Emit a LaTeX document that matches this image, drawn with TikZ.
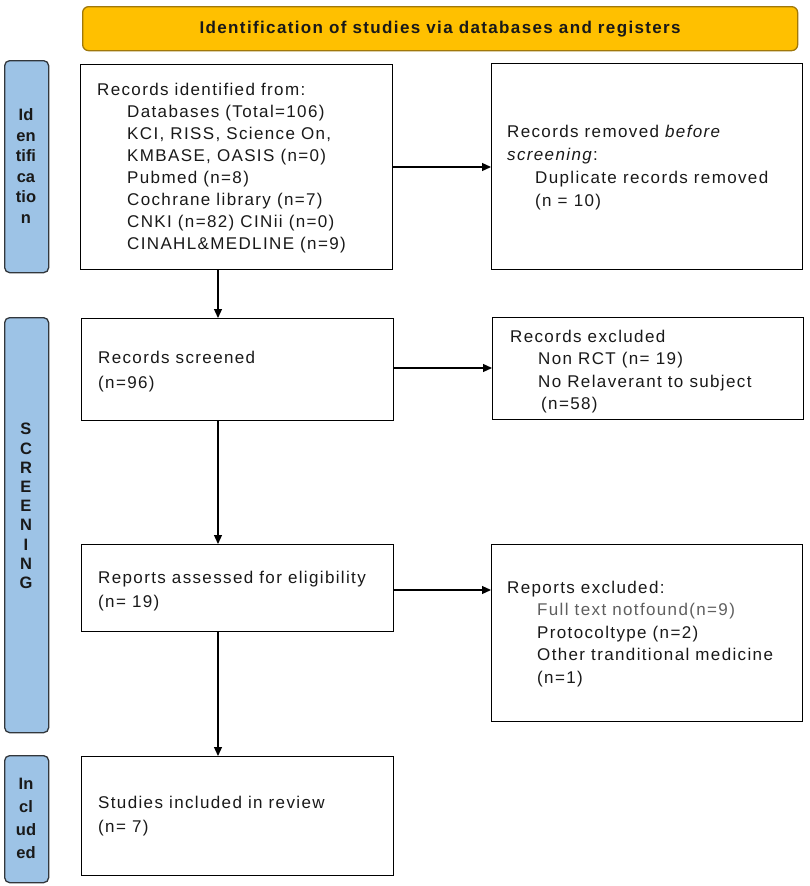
\documentclass[tikz,border=0pt]{standalone}
\usepackage{fontspec}
\setmainfont{Liberation Sans}[LetterSpace=8]
\newfontfamily\plainsans{Liberation Sans}
\newfontfamily\bannersans{Liberation Sans}[LetterSpace=8]
\usetikzlibrary{arrows.meta}
\definecolor{bannerfill}{RGB}{255,192,0}
\definecolor{bannerdraw}{RGB}{160,120,10}
\definecolor{sidefill}{RGB}{157,195,230}
\definecolor{sidedraw}{RGB}{50,55,60}
\definecolor{txt}{RGB}{25,25,25}
\definecolor{graytxt}{RGB}{95,95,95}
\tikzset{
  flowbox/.style={draw=black, line width=1.2pt, fill=white, inner sep=0pt, anchor=north west},
  sidebar/.style={draw=sidedraw, line width=1.3pt, fill=sidefill, rounded corners=5pt, inner sep=0pt, anchor=north west},
  sidelabel/.style={font=\plainsans\bfseries\fontsize{16.5}{20.5}\selectfont, align=center, inner sep=0pt, text=txt},
  boxtext/.style={font=\fontsize{17}{22}\selectfont, align=left, inner sep=0pt, anchor=north west, text=txt},
  arr/.style={line width=1.2pt, -{Triangle[length=9pt,width=8pt]}}
}
\newcommand{\ind}{\hspace*{30pt}}
\begin{document}
\begin{tikzpicture}[x=1pt,y=-1pt]
\useasboundingbox[fill=white] (0,0) rectangle (810,886);
% banner
\node[draw=bannerdraw, line width=1.3pt, fill=bannerfill, rounded corners=6pt, anchor=north west,
      minimum width=715pt, minimum height=44pt, inner sep=0pt, text=txt,
      font=\bannersans\bfseries\fontsize{17}{20}\selectfont] (banner) at (82,6)
      {Identification of studies via databases and registers};
% side bars
\node[sidebar, minimum width=44pt, minimum height=212pt] (idbar) at (4,60) {};
\node[sidelabel] (idlab) at (26,166) {Id\\en\\tifi\\ca\\tio\\n};
\node[sidebar, minimum width=44pt, minimum height=415pt] (scrbar) at (4,317) {};
\node[sidelabel, font=\plainsans\bfseries\fontsize{16.5}{19.2}\selectfont] (scrlab) at (26,506) {S\\C\\R\\E\\E\\N\\I\\N\\G};
\node[sidebar, minimum width=44pt, minimum height=127pt] (incbar) at (4,755) {};
\node[sidelabel, font=\plainsans\bfseries\fontsize{16.5}{23}\selectfont] (inclab) at (26,818) {In\\cl\\ud\\ed};
% boxes
\node[flowbox, minimum width=312pt, minimum height=205pt] (idbox) at (80,64) {};
\node[flowbox, minimum width=311pt, minimum height=206pt] (rembox) at (491,63) {};
\node[flowbox, minimum width=312pt, minimum height=102pt] (scrbox) at (81,318) {};
\node[flowbox, minimum width=311pt, minimum height=102pt] (exbox) at (492,317) {};
\node[flowbox, minimum width=312pt, minimum height=87pt] (repbox) at (81,544) {};
\node[flowbox, minimum width=311pt, minimum height=177pt] (repexbox) at (491,544) {};
\node[flowbox, minimum width=312pt, minimum height=119pt] (studbox) at (81,756) {};
% texts
\node[boxtext] (idtext) at (97,82.5) {Records identified from:\\
\ind Databases (Total=106)\\
\ind KCI, RISS, Science On,\\
\ind KMBASE, OASIS (n=0)\\
\ind Pubmed (n=8)\\
\ind Cochrane library (n=7)\\
\ind CNKI (n=82) CINii (n=0)\\
\ind CINAHL\&MEDLINE (n=9)};
\node[boxtext, font=\fontsize{17}{23}\selectfont] (remtext) at (507,124.5) {Records removed \textit{before}\\
\textit{screening}:\\
\hspace*{28pt}Duplicate records removed\\
\hspace*{28pt}(n = 10)};
\node[boxtext, font=\fontsize{17}{25}\selectfont] (scrtext) at (98,350.5) {Records screened\\(n=96)};
\node[boxtext, font=\fontsize{17}{22.6}\selectfont] (extext) at (510,329.5) {Records excluded\\
\hspace*{28pt}Non RCT (n= 19)\\
\hspace*{28pt}No Relaverant to subject\\
\hspace*{31pt}(n=58)};
\node[boxtext, font=\fontsize{17}{24}\selectfont] (reptext) at (98,570.5) {Reports assessed for eligibility\\(n= 19)};
\node[boxtext, font=\fontsize{17}{22.5}\selectfont] (repextext) at (507,580.5) {Reports excluded:\\
\hspace*{30pt}\textcolor{graytxt}{Full text notfound(n=9)}\\
\hspace*{30pt}Protocoltype (n=2)\\
\hspace*{30pt}Other tranditional medicine\\
\hspace*{30pt}(n=1)};
\node[boxtext, font=\fontsize{17}{24}\selectfont] (studtext) at (98,795.5) {Studies included in review\\(n= 7)};
% connectors
\coordinate (vx) at (218,0);
\coordinate (h1) at (0,167);
\coordinate (h2) at (0,368);
\coordinate (h3) at (0,590);
\draw[arr] (idbox.south -| vx) -- (scrbox.north -| vx);
\draw[arr] (scrbox.south -| vx) -- (repbox.north -| vx);
\draw[arr] (repbox.south -| vx) -- (studbox.north -| vx);
\draw[arr] (idbox.east |- h1) -- (rembox.west |- h1);
\draw[arr] (scrbox.east |- h2) -- (exbox.west |- h2);
\draw[arr] (repbox.east |- h3) -- (repexbox.west |- h3);
\end{tikzpicture}
\end{document}
